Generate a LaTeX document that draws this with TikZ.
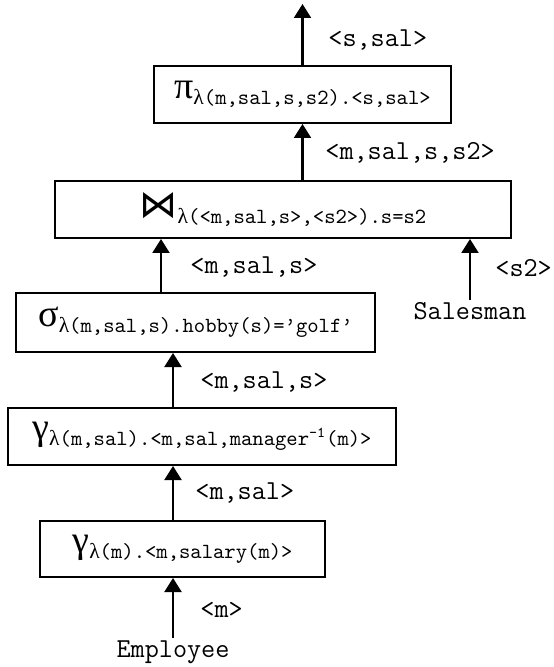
\documentclass[tikz,border=0pt]{standalone}
\usepackage{fontspec}
\setmainfont{Liberation Serif}
\newfontfamily\bowfont{DejaVu Sans}
\usetikzlibrary{arrows.meta}
\newcommand{\opname}[2]{{\fontsize{19}{19}\selectfont #1}\raisebox{-3pt}{\fontsize{10.8}{11}\selectfont λ\ttfamily #2}}
\begin{document}
\begin{tikzpicture}[x=0.5pt,y=-0.5pt,
    op/.style={draw,line width=1pt,inner sep=0pt,minimum height=28.5pt},
    lbl/.style={anchor=west,inner sep=0pt,font=\fontsize{13.7}{14}\selectfont\ttfamily},
    src/.style={inner sep=1pt,font=\fontsize{13.7}{14}\selectfont\ttfamily},
    flow/.style={line width=1.1pt,-{Triangle[length=7pt,width=8.5pt]}}]
    \useasboundingbox (0,0) rectangle (553,667);
    \node[op,minimum width=148.5pt] (proj) at (302.5,94.5) {\opname{π}{(m,sal,s,s2).<s,sal>}};
    \node[op,minimum width=228pt] (join) at (283,209.5) {\opname{\bowfont ⋈}{(<m,sal,s>,<s2>).s=s2}};
    \node[op,minimum width=179.5pt,minimum height=29.5pt] (sel) at (195.5,322.5) {\opname{σ}{(m,sal,s).hobby(s)=’golf’}};
    \node[op,minimum width=194pt] (mgr) at (202,436.5) {\opname{γ}{(m,sal).<m,sal,manager\textsuperscript{-1}(m)>}};
    \node[op,minimum width=142.5pt,minimum height=28pt] (sal) at (182.5,549) {\opname{γ}{(m).<m,salary(m)>}};
    \node[src] (emp) at (173,652) {Employee};
    \node[src] (sman) at (470,311) {Salesman};
    \coordinate (out) at (302.5,4);
    \draw[flow] (emp.north) -- (sal.south -| emp.north);
    \draw[flow] ([xshift=-4.75pt]sal.north) -- ([xshift=-4.75pt]sal.north |- mgr.south);
    \draw[flow] ([xshift=-14.5pt]mgr.north) -- ([xshift=-14.5pt]mgr.north |- sel.south);
    \draw[flow] ([xshift=-17.25pt]sel.north) -- ([xshift=-17.25pt]sel.north |- join.south);
    \draw[flow] (sman.north) -- (join.south -| sman.north);
    \draw[flow] (join.north -| out) -- (proj.south -| out);
    \draw[flow] (proj.north -| out) -- (out);
    \node[lbl] (l1) at (328,40) {<s,sal>};
    \node[lbl] (l2) at (325,153) {<m,sal,s,s2>};
    \node[lbl] (l3) at (190,267) {<m,sal,s>};
    \node[lbl] (l4) at (495,268) {<s2>};
    \node[lbl] (l5) at (200,382) {<m,sal,s>};
    \node[lbl] (l6) at (195,493) {<m,sal>};
    \node[lbl] (l7) at (200,610) {<m>};
\end{tikzpicture}
\end{document}
